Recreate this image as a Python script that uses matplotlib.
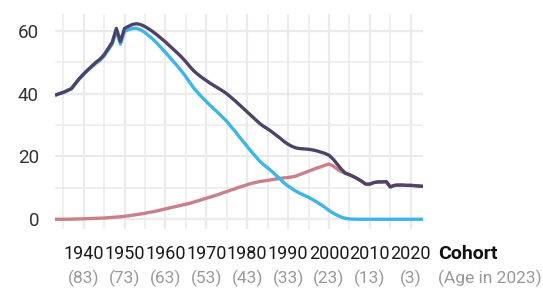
import matplotlib
matplotlib.use("Agg")
import matplotlib.pyplot as plt
from matplotlib.ticker import MultipleLocator, FixedLocator
import matplotlib.transforms as mtransforms

years = list(range(1933, 2024))

total = [39.5, 40.0, 40.4, 41.0, 41.6, 43.3, 44.9, 46.3, 47.6, 48.8,
         50.0, 51.0, 52.4, 54.4, 56.4, 60.8, 56.6, 60.8, 61.5, 62.1,
         62.3, 62.0, 61.4, 60.6, 59.7, 58.7, 57.6, 56.5, 55.3, 54.1,
         52.9, 51.6, 50.2, 48.6, 47.2, 46.1, 45.1, 44.2, 43.3, 42.5,
         41.7, 40.9, 40.0, 38.9, 37.8, 36.6, 35.4, 34.2, 33.0, 31.8,
         30.6, 29.6, 28.8, 27.9, 26.9, 25.9, 24.8, 23.9, 23.2, 22.7,
         22.5, 22.4, 22.3, 22.1, 21.8, 21.4, 21.0, 20.4, 19.2, 17.6,
         16.0, 14.7, 14.2, 13.6, 12.9, 12.1, 11.2, 11.2, 11.7, 11.9,
         11.9, 12.0, 10.3, 10.8, 10.9, 10.9, 10.8, 10.8, 10.7, 10.6,
         10.5]

blue = [39.5, 40.0, 40.4, 41.0, 41.55, 43.2, 44.8, 46.15, 47.4, 48.55,
        49.7, 50.65, 52.0, 53.9, 55.8, 60.1, 55.8, 59.85, 60.4, 60.8,
        60.8, 60.3, 59.5, 58.4, 57.3, 56.0, 54.6, 53.2, 51.7, 50.2,
        48.7, 47.1, 45.4, 43.5, 41.7, 40.2, 38.8, 37.5, 36.2, 35.0,
        33.8, 32.5, 31.2, 29.6, 28.1, 26.4, 24.8, 23.2, 21.6, 20.1,
        18.6, 17.4, 16.4, 15.3, 14.1, 12.9, 11.6, 10.6, 9.7, 8.9,
        8.2, 7.6, 7.0, 6.3, 5.5, 4.7, 3.8, 2.8, 2.0, 1.3,
        0.7, 0.3, 0.1, 0.05, 0.0, 0.0, 0.0, 0.0, 0.0, 0.0,
        0.0, 0.0, 0.0, 0.0, 0.0, 0.0, 0.0, 0.0, 0.0, 0.0,
        0.0]

pink = [0.0, 0.0, 0.0, 0.0, 0.05, 0.1, 0.1, 0.15, 0.2, 0.25,
        0.3, 0.35, 0.4, 0.5, 0.6, 0.7, 0.8, 0.95, 1.1, 1.3,
        1.5, 1.7, 1.9, 2.2, 2.4, 2.7, 3.0, 3.3, 3.6, 3.9,
        4.2, 4.5, 4.8, 5.1, 5.5, 5.9, 6.3, 6.7, 7.1, 7.5,
        7.9, 8.4, 8.8, 9.3, 9.7, 10.2, 10.6, 11.0, 11.4, 11.7,
        12.0, 12.2, 12.4, 12.6, 12.8, 13.0, 13.2, 13.3, 13.5, 13.8,
        14.3, 14.8, 15.3, 15.8, 16.3, 16.7, 17.2, 17.6, 17.0, 16.0,
        15.2, 14.6, 14.2, 13.6, 12.9, 12.1, 11.2, 11.2, 11.7, 11.9,
        11.9, 12.0, 10.3, 10.8, 10.9, 10.9, 10.8, 10.8, 10.7, 10.6,
        10.5]

tick_years = [1940, 1950, 1960, 1970, 1980, 1990, 2000, 2010, 2020]
tick_labels = ["1940", "1950", "1960", "1970", "1980", "1990", "2000", "2010", "2020"]
age_labels = ["(83)", "(73)", "(63)", "(53)", "(43)", "(33)", "(23)", "(13)", "(3)"]
y_ticks = [0, 20, 40, 60]

c_total = "#4e4268"
c_blue = "#3db5ea"
c_pink = "#c98089"
grid_c = "#ebebeb"
font = "Roboto"

W, H = 543, 289
fig = plt.figure(figsize=(W / 100, H / 100), dpi=100)
ax = fig.add_axes([55 / W, 1 - 229 / H, 368 / W, 215 / H])

ax.set_xlim(1933, 2023)
ax.set_ylim(-3.1, 65.4)

ax.xaxis.set_major_locator(FixedLocator(tick_years))
ax.xaxis.set_minor_locator(MultipleLocator(5))
ax.yaxis.set_major_locator(FixedLocator(y_ticks))
ax.yaxis.set_minor_locator(MultipleLocator(10))
ax.grid(True, which="major", color=grid_c, lw=1.6)
ax.grid(True, which="minor", color=grid_c, lw=1.1)
ax.set_axisbelow(True)
for s in ax.spines.values():
    s.set_visible(False)
ax.tick_params(which="both", length=0)
ax.set_xticklabels([])
ax.set_yticks(y_ticks)
ax.set_yticklabels([str(v) for v in y_ticks], fontsize=13.5, color="#333333",
                   family=font)
ax.tick_params(axis="y", pad=11.5)

ax.plot(years, pink, color=c_pink, lw=2.4, solid_capstyle="butt", zorder=3)
ax.plot(years, blue, color=c_blue, lw=2.4, solid_capstyle="butt", zorder=4)
ax.plot(years, total, color=c_total, lw=2.4, solid_capstyle="butt", zorder=5)

trans = mtransforms.blended_transform_factory(ax.transData, fig.transFigure)
for yr, lab, age in zip(tick_years, tick_labels, age_labels):
    ax.text(yr, 1 - 254 / H, lab, transform=trans, ha="center", va="center",
            fontsize=13, color="#1a1a1a", family=font)
    ax.text(yr, 1 - 278 / H, age, transform=trans, ha="center", va="center",
            fontsize=12.5, color="#999999", family=font)

fig.text(438 / W, 1 - 254 / H, "Cohort", ha="left", va="center",
         fontsize=14, fontweight="bold", color="#111111", family=font)
fig.text(438 / W, 1 - 278 / H, "(Age in 2023)", ha="left", va="center",
         fontsize=12.5, color="#999999", family=font)

fig.savefig("out.png", dpi=100, facecolor="white")
